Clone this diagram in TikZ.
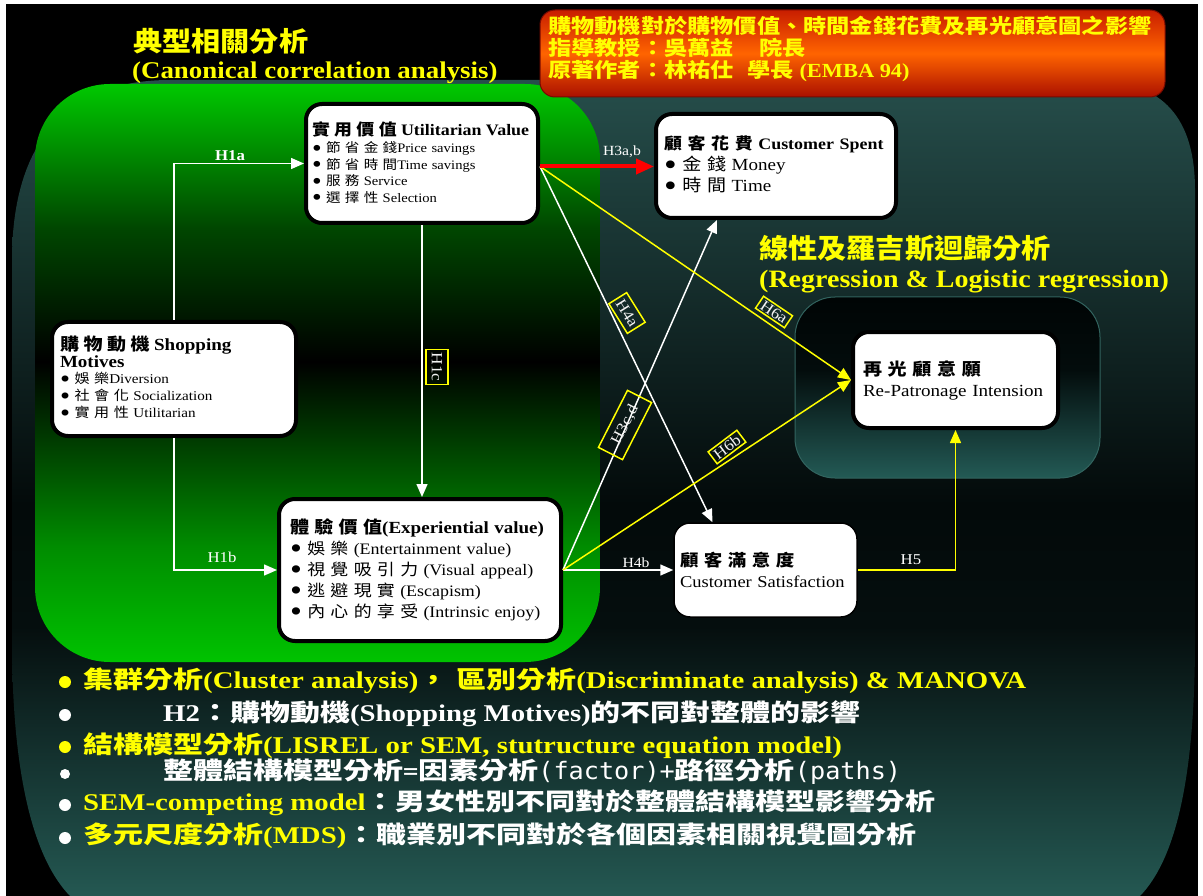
\documentclass[tikz,border=0pt]{standalone}
\usepackage{fontspec}
\usepackage{graphicx}
\setmainfont{Liberation Serif}[FakeStretch=1.12]
\newfontfamily\zhf{Noto Sans CJK TC}[FakeStretch=1.12]
\newfontfamily\zhtf{Noto Sans CJK TC}[FakeStretch=1.08]
\newfontfamily\zhrf{Noto Sans CJK TC}[FakeStretch=1.16]
\newfontfamily\zhwf{Noto Sans CJK TC}[FakeStretch=1.25]
\newfontfamily\srwf{Liberation Serif}[FakeStretch=1.2]
\newfontfamily\monof{DejaVu Sans Mono}[FakeStretch=1.05]
\usetikzlibrary{arrows.meta}
\newcommand\zh[1]{{\zhf #1}}
\newcommand\zw[1]{{\zhwf #1}}
\newcommand\fs[2]{\fontsize{#1}{#2}\selectfont}
\newcommand\bul{\raisebox{-0.27em}{\scalebox{1.9}{\textbullet}}}
\definecolor{ylw}{RGB}{255,255,0}
\definecolor{tealA}{RGB}{38,78,75}
\definecolor{tealB}{RGB}{36,88,82}
\definecolor{tealD}{RGB}{5,14,14}
\definecolor{tealE}{RGB}{3,10,10}
\definecolor{grnA}{RGB}{0,195,0}
\definecolor{grnB}{RGB}{0,140,0}
\definecolor{grnC}{RGB}{0,70,0}
\definecolor{grnD}{RGB}{0,200,0}
\definecolor{redA}{RGB}{170,15,0}
\definecolor{redB}{RGB}{255,100,0}
\definecolor{redC}{RGB}{200,30,0}
\definecolor{regA}{RGB}{35,90,85}
\definecolor{regB}{RGB}{3,12,12}
\definecolor{regC}{RGB}{0,5,5}
\definecolor{regline}{RGB}{50,100,95}
\pgfdeclareverticalshading{tealsh}{100bp}{color(0bp)=(tealB); color(25bp)=(tealB); color(41.5bp)=(tealD); color(49bp)=(tealE); color(75bp)=(tealA); color(100bp)=(tealA)}
\pgfdeclareverticalshading{grnsh}{100bp}{color(0bp)=(grnA); color(25bp)=(grnA); color(35bp)=(grnB); color(51bp)=(black); color(62.5bp)=(grnC); color(75bp)=(grnD); color(100bp)=(grnD)}
\pgfdeclareverticalshading{redsh}{100bp}{color(0bp)=(redA); color(25bp)=(redA); color(50bp)=(redB); color(75bp)=(redC); color(100bp)=(redC)}
\pgfdeclareverticalshading{regsh}{100bp}{color(0bp)=(regA); color(25bp)=(regA); color(55bp)=(regB); color(75bp)=(regC); color(100bp)=(regC)}
\tikzset{
  box/.style={draw=black, line width=4pt, fill=white, rounded corners=16pt, align=left, text=black, inner ysep=4pt},
  conn/.style={draw=white, line width=1.5pt, -{Triangle[length=13pt,width=11pt]}},
  yconn/.style={draw=ylw, line width=1.5pt, -{Triangle[length=13pt,width=11pt]}},
  hbox/.style={draw=ylw, line width=1.5pt, text=white!90!gray, inner xsep=3pt, inner ysep=2pt, font=\fs{15.5}{15.5}},
  hlab/.style={text=white, font=\fs{15}{15}, inner sep=0pt},
  btxt/.style={anchor=west, inner sep=0pt, font=\srwf\bfseries\fs{24}{28}},
}
\begin{document}
\begin{tikzpicture}[x=1pt,y=-1pt]
\useasboundingbox (0,0) rectangle (1203,896);
\fill[white] (0,0) rectangle (1203,896);
\fill[black] (6,4) rectangle (1198,896);
% teal screen
\shade[shading=tealsh] (12,260) .. controls (12,150) and (60,80) .. (170,80) -- (1090,80)
  .. controls (1165,80) and (1195,120) .. (1195,190) -- (1195,640)
  .. controls (1195,780) and (1175,860) .. (1140,896) -- (70,896)
  .. controls (35,860) and (12,780) .. (12,640) -- cycle;
% green area
\shade[shading=grnsh, rounded corners=75pt] (35,84) rectangle (600,662);
% red title box
\shade[shading=redsh, rounded corners=15pt] (540,10) rectangle (1165,97);
\draw[redA!70!black, line width=1pt, rounded corners=15pt] (540,10) rectangle (1165,97);
% regression box
\shade[shading=regsh, rounded corners=40pt] (795,297) rectangle (1100,478);
\draw[regline, line width=1pt, rounded corners=40pt] (795,297) rectangle (1100,478);

% titles
\node[anchor=west, inner sep=0pt, text=ylw, align=left, font=\zhrf\bfseries\fs{20}{22}] (rt) at (548,49)
  {購物動機對於購物價值、時間金錢花費及再光顧意圖之影響\\指導教授：吳萬益\hspace{1.3em}院長\\原著作者：林祐仕\hspace{0.7em}學長\ {\rmfamily\bfseries (EMBA 94)}};
\node[anchor=west, inner sep=0pt, text=ylw, font=\zhtf\bfseries\fs{27}{30}] (t1) at (133,41) {典型相關分析};
\node[anchor=west, inner sep=0pt, text=ylw, font=\bfseries\fs{24}{28}] (t2) at (132,73) {(Canonical correlation analysis)};
\node[anchor=west, inner sep=0pt, text=ylw, font=\zhtf\bfseries\fs{27}{30}] (t3) at (759,248) {線性及羅吉斯迴歸分析};
\node[anchor=west, inner sep=0pt, text=ylw, font=\bfseries\fs{25}{28}] (t4) at (759,282) {(Regression \& Logistic regression)};

% nodes
\node[box, text width=220pt, inner xsep=6pt, minimum height=119pt, font=\fs{13}{16.5}] (util) at (422,163.5)
  {{\fs{16}{16.5}\bfseries\zh{實 用 價 值} Utilitarian Value}\\[1pt]
   \bul\ \zh{節 省 金 錢}Price savings\\
   \bul\ \zh{節 省 時 間}Time savings\\
   \bul\ \zh{服 務} Service\\
   \bul\ \zh{選 擇 性} Selection};
\node[box, text width=224pt, inner xsep=8pt, minimum height=104pt, font=\fs{17}{21}] (spent) at (776,166)
  {{\fs{16}{21}\bfseries\zh{顧 客 花 費} Customer Spent}\\
   \bul\ \zh{金 錢} Money\\
   \bul\ \zh{時 間} Time};
\node[box, text width=228pt, inner xsep=8pt, minimum height=114pt, font=\fs{13.5}{17}] (sm) at (174,379)
  {{\fs{17}{20}\bfseries\zh{購 物 動 機} Shopping\\Motives}\\[-1pt]
   \bul\ \zh{娛 樂}Diversion\\
   \bul\ \zh{社 會 化} Socialization\\
   \bul\ \zh{實 用 性} Utilitarian};
\node[box, text width=260pt, inner xsep=11pt, minimum height=142pt, font=\fs{16}{21}] (exp) at (420,570)
  {{\fs{17}{21}\bfseries\zh{體 驗 價 值}(Experiential value)}\\
   \bul\ \zh{娛 樂} (Entertainment value)\\
   \bul\ \zh{視 覺 吸 引 力} (Visual appeal)\\
   \bul\ \zh{逃 避 現 實} (Escapism)\\
   \bul\ \zh{內 心 的 享 受} (Intrinsic enjoy)};
\node[box, line width=1.5pt, text width=171pt, inner xsep=6pt, minimum height=94pt, font=\fs{16.5}{21}] (csat) at (765.5,570)
  {{\bfseries\zh{顧 客 滿 意 度}}\\Customer Satisfaction};
\node[box, text width=185pt, inner xsep=10pt, minimum height=96pt, font=\fs{17}{21}] (rp) at (955.5,380)
  {{\bfseries\zh{再 光 顧 意 願}}\\Re-Patronage Intension};

% connectors
\coordinate (uo) at ([yshift=-3pt]util.east);
\draw[conn] (sm.north) |- (util.west);
\draw[conn] (sm.south) |- (exp.west);
\draw[conn] (util.south) -- (util.south |- exp.north);
\draw[conn] (uo) -- ([xshift=-53pt]csat.north);
\draw[conn] (exp.east) -- ([xshift=-59pt]spent.south);
\draw[conn] (exp.east) -- (csat.west);
\draw[yconn] (uo) -- (rp.west);
\draw[yconn] (exp.east) -- (rp.west);
\draw[yconn] (csat.east) -| (rp.south);
\draw[draw=red, line width=4pt, -{Triangle[length=18pt,width=15pt]}] (uo) -- (uo -| spent.west);

% connector labels
\node[hlab, font=\bfseries\fs{15}{15}] (l1a) at (230,156) {H1a};
\node[hlab] (l1b) at (222,557) {H1b};
\node[hlab, font=\fs{14}{14}] (l3ab) at (622,152) {H3a,b};
\node[hlab, font=\fs{14}{14}] (l4b) at (636,563) {H4b};
\node[hlab] (l5) at (911,560) {H5};
\node[hbox, rotate=-90, minimum width=35pt, minimum height=22pt] (l1c) at (437,367) {H1c};
\node[hbox, rotate=-58, minimum width=31pt, minimum height=21pt] (l4a) at (627,313) {H4a};
\node[hbox, rotate=63, minimum width=64pt, minimum height=27pt] (l3cd) at (625,425) {H3c,d};
\node[hbox, rotate=-34] (l6a) at (774,312) {H6a};
\node[hbox, rotate=37] (l6b) at (727,447) {H6b};

% bottom bullets
\fill[ylw] (65,682) circle (6);
\fill[white] (65,715) circle (6);
\fill[ylw] (65,747) circle (6);
\fill[white] (65,774) circle (5);
\fill[white] (65,805) circle (6);
\fill[white] (65,838) circle (6);
\node[btxt, text=ylw] (b1) at (83,681) {\zw{集群分析}(Cluster analysis)\zw{，}\hspace{8pt}\zw{區別分析}(Discriminate analysis) \& MANOVA};
\node[btxt, text=white] (b2) at (163,714) {H2\zw{：購物動機}(Shopping Motives)\zw{的不同對整體的影響}};
\node[btxt, text=ylw] (b3) at (83,746) {\zw{結構模型分析}(LISREL or SEM, stutructure equation model)};
\node[btxt, text=white] (b4) at (163,772) {\zw{整體結構模型分析}{\monof\mdseries =}\zw{因素分析}{\monof\mdseries (factor)+}\zw{路徑分析}{\monof\mdseries (paths)}};
\node[btxt, text=white] (b5) at (83,803) {{\color{ylw}SEM-competing model}\zw{：男女性別不同對於整體結構模型影響分析}};
\node[btxt, text=white] (b6) at (83,836) {{\color{ylw}\zw{多元尺度分析}(MDS)}\zw{：職業別不同對於各個因素相關視覺圖分析}};
\end{tikzpicture}
\end{document}
